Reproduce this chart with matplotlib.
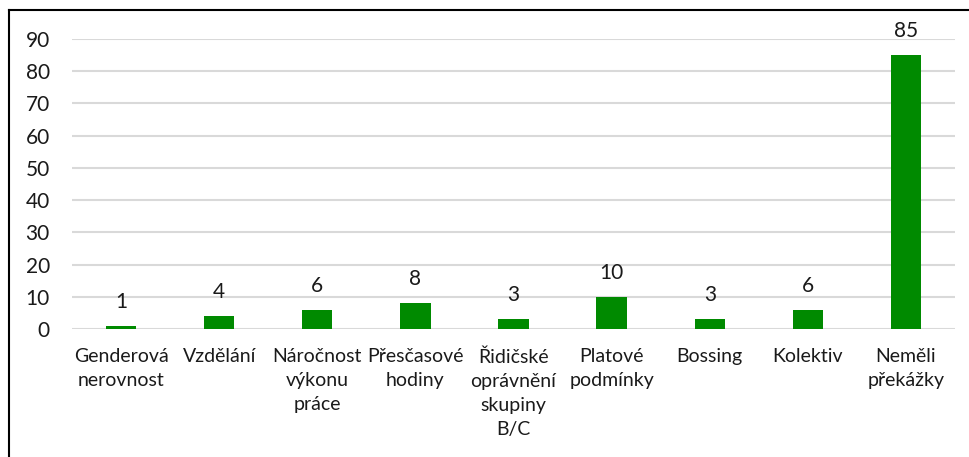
import matplotlib.pyplot as plt
from matplotlib.lines import Line2D

categories = ["Genderová\nnerovnost", "Vzdělání", "Náročnost\nvýkonu\npráce",
              "Přesčasové\nhodiny", "Řidičské\noprávnění\nskupiny\nB/C",
              "Platové\npodmínky", "Bossing", "Kolektiv", "Neměli\npřekážky"]
values = [1, 4, 6, 8, 3, 10, 3, 6, 85]
yticks = [0, 10, 20, 30, 40, 50, 60, 70, 80, 90]

plt.rcParams['font.family'] = ['Lato', 'DejaVu Sans']

fig = plt.figure(figsize=(9.7, 4.57), dpi=100)
ax = fig.add_axes([72/970, 1-329/457, (955-72)/970, (329-39)/457])

x = list(range(len(values)))
ax.bar(x, values, width=0.31, color='#008a00', zorder=3)
for xi, v in zip(x, values):
    ax.annotate(str(v), (xi, v), xytext=(0, 10), textcoords='offset points',
                ha='center', va='bottom', fontsize=15, color='#1a1a1a')

ax.set_xlim(-0.5, len(values) - 0.5)
ax.set_ylim(0, 90)
ax.set_yticks(yticks)
ax.set_xticks(x)
ax.set_xticklabels(categories, fontsize=14, linespacing=1.5, color='#1a1a1a')
ax.tick_params(axis='y', labelsize=15, length=0, pad=16, labelcolor='#1a1a1a')
ax.tick_params(axis='x', length=0, pad=14)
ax.grid(axis='y', color='#d9d9d9', linewidth=1.5, zorder=0)
for s in ax.spines.values():
    s.set_visible(False)

# outer frame (left and top only visible)
fig.add_artist(Line2D([9/970, 9/970], [0, 1-10/457], color='black', lw=1.5))
fig.add_artist(Line2D([9/970, 1], [1-10/457, 1-10/457], color='black', lw=1.5))

fig.savefig('out.png', dpi=100)
